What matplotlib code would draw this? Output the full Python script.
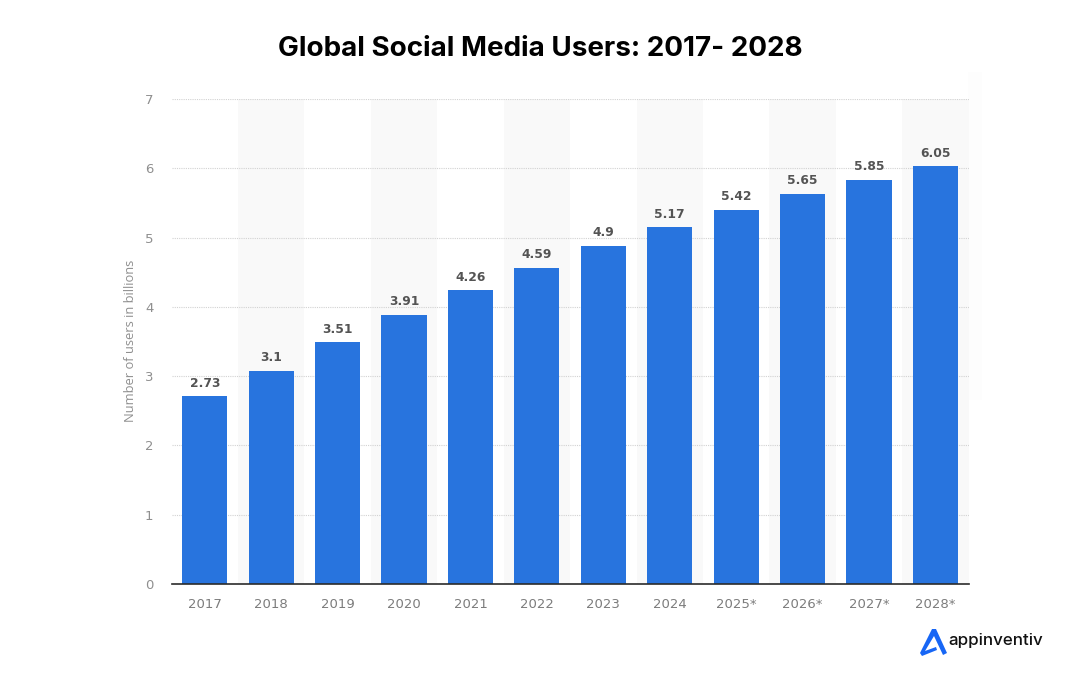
import matplotlib
matplotlib.use("Agg")
import matplotlib.pyplot as plt
from matplotlib.patches import Polygon, Rectangle

years = ["2017", "2018", "2019", "2020", "2021", "2022", "2023", "2024",
         "2025*", "2026*", "2027*", "2028*"]
users = [2.73, 3.1, 3.51, 3.91, 4.26, 4.59, 4.9, 5.17, 5.42, 5.65, 5.85, 6.05]
value_labels = ["2.73", "3.1", "3.51", "3.91", "4.26", "4.59", "4.9", "5.17",
                "5.42", "5.65", "5.85", "6.05"]
yticks = [0, 1, 2, 3, 4, 5, 6, 7]

W, H = 1080, 682
fig = plt.figure(figsize=(W / 100, H / 100), dpi=100)
ax = fig.add_axes([171.6 / W, 1 - 584 / H, (968 - 171) / W, (584 - 99) / H])

# alternating background bands
for i in range(1, len(years), 2):
    ax.axvspan(i - 0.5, i + 0.5, color="#f9f9f9", lw=0, zorder=0)

# bars sit a little lower than the gridlines in the original
ax.bar(range(len(years)), users, width=0.68, bottom=-0.022, color="#2874de", zorder=3)

for i, lab in enumerate(value_labels):
    ax.text(i, users[i] + 0.075, lab, ha="center", va="bottom", fontsize=8.8,
            fontweight="bold", color="#545454", family="DejaVu Sans", zorder=4)

ax.set_xlim(-0.5, 11.5)
ax.set_ylim(0, 7)
ax.set_xticks(range(len(years)))
ax.set_xticklabels(years, family="DejaVu Sans", fontsize=9.5, color="#7c7c7c")
ax.set_yticks(yticks)
ax.set_yticklabels([str(t) for t in yticks], family="DejaVu Sans", fontsize=9.5, color="#8f8f8f")
ax.tick_params(axis="both", length=0)
ax.tick_params(axis="x", pad=10)
ax.tick_params(axis="y", pad=13)

ax.grid(axis="y", linestyle=(0, (1, 1)), linewidth=0.8, color="#d2d2d2", zorder=1)
ax.set_axisbelow(True)
for s in ["top", "right", "left"]:
    ax.spines[s].set_visible(False)
ax.spines["bottom"].set_color("#2b2b2b")
ax.spines["bottom"].set_linewidth(1.2)
ax.spines["bottom"].set_zorder(5)

ax.set_ylabel("Number of users in billions", family="Open Sans", fontsize=9.3, color="#8f8f8f")
ax.yaxis.set_label_coords((136 - 171) / (968 - 171), (584 - 341) / 485)

fig.text(540 / W, 1 - 49 / H, "Global Social Media Users: 2017- 2028", ha="center", va="center",
         fontsize=20, fontweight="bold", family="Inter", color="black")

# faint strip at the right edge of the screenshot
fig.add_artist(Rectangle((968 / W, 1 - 400 / H), 14 / W, 328 / H, transform=fig.transFigure,
                         color="#fdfdfd", lw=0, zorder=-1))

# logo
def px(points):
    return [(x / W, 1 - y / H) for x, y in points]

mark = px([(932, 629), (936, 629), (947, 653), (943, 655), (934, 636), (925, 651),
           (936, 647), (937, 650), (922, 656), (920, 653)])
fig.add_artist(Polygon(mark, closed=True, transform=fig.transFigure, color="#1766f5", lw=0))
fig.text(948 / W, 1 - 641 / H, "appinventiv", ha="left", va="center", fontsize=12.2,
         family="Inter", fontweight="medium", color="#111111")

fig.savefig("out.png", dpi=100)
